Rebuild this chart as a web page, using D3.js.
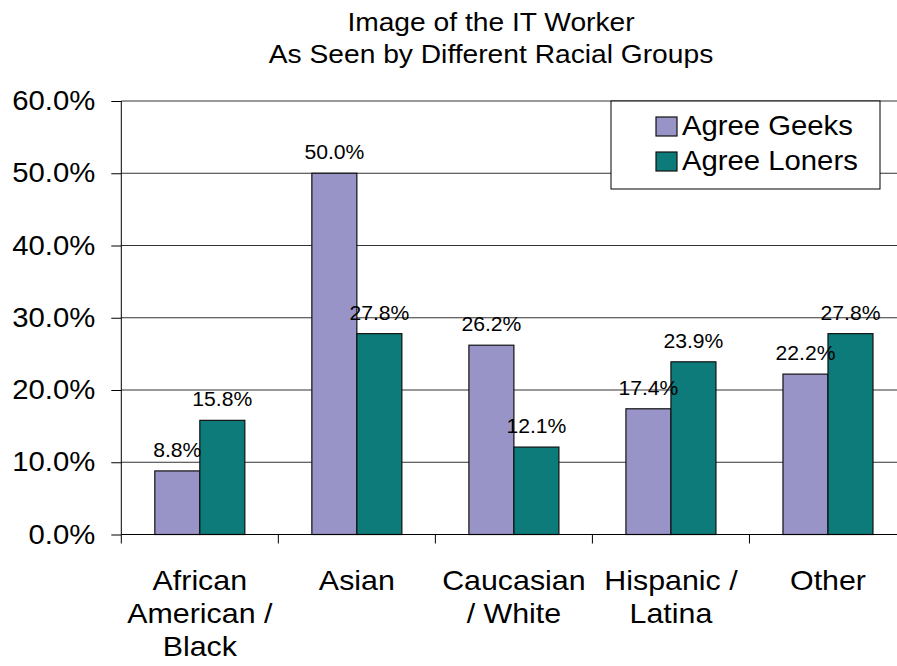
<!DOCTYPE html>
<html>
<head>
<meta charset="utf-8">
<script src="https://cdn.jsdelivr.net/npm/d3@7"></script>
<style>
  html, body { margin: 0; padding: 0; background: #fff; }
  svg { display: block; font-family: "Liberation Sans", Arial, Helvetica, sans-serif; }
</style>
</head>
<body>
<svg id="chart" width="897" height="666"></svg>
<script>
// ---- data ----
const titleLines = ["Image of the IT Worker", "As Seen by Different Racial Groups"];
const categories = ["African American / Black", "Asian", "Caucasian / White", "Hispanic / Latina", "Other"];
const tickLabelLines = [["African", "American /", "Black"], ["Asian"], ["Caucasian", "/ White"], ["Hispanic /", "Latina"], ["Other"]];
const seriesNames = ["Agree Geeks", "Agree Loners"];
const agreeGeeks = [0.088, 0.500, 0.262, 0.174, 0.222];
const agreeLoners = [0.158, 0.278, 0.121, 0.239, 0.278];
const yTicks = [0, 0.1, 0.2, 0.3, 0.4, 0.5, 0.6];

(function () {
const seriesValues = [agreeGeeks, agreeLoners];
const colors = ["#9994c8", "#0c7b79"];

// ---- layout ----
const W = 897;
const pL = 121.3, pR = 906.5, pT = 101, pB = 534.5;
const SX = 1.085; // horizontal glyph stretch seen in the original
const svg = d3.select("#chart");
const fmt = d3.format(".1%");
const place = (px, py) => `translate(${px},${py}) scale(${SX},1)`;

const x = d3.scaleBand().domain(categories).range([pL, pR])
  .paddingInner(0.4268).paddingOuter(0.2134);
const xs = d3.scaleBand().domain(seriesNames).range([0, x.bandwidth()]);
const y = d3.scaleLinear().domain([0, 0.6]).range([pB, pT]);

// gridlines
svg.append("g").selectAll("line").data(yTicks.filter(d => d > 0)).join("line")
  .attr("x1", pL).attr("x2", W)
  .attr("y1", d => y(d)).attr("y2", d => y(d))
  .attr("stroke", "#333").attr("stroke-width", 1);

// bars
const groups = svg.append("g").selectAll("g").data(categories).join("g")
  .attr("transform", d => `translate(${x(d)},0)`);
const cells = (c, i) => seriesNames.map((s, k) => ({ s, v: seriesValues[k][i], k }));
groups.selectAll("rect").data(cells).join("rect")
  .attr("x", d => xs(d.s)).attr("width", xs.bandwidth())
  .attr("y", d => y(d.v)).attr("height", d => y(0) - y(d.v))
  .attr("fill", d => colors[d.k]).attr("stroke", "#111").attr("stroke-width", 1.2);

// data labels
groups.selectAll("text.val").data(cells).join("text").attr("class", "val")
  .attr("transform", d => place(xs(d.s) + xs.bandwidth() / 2, y(d.v) - 14))
  .attr("text-anchor", "middle").attr("font-size", 19.5).attr("fill", "#000")
  .text(d => fmt(d.v));

// y axis
const yAxis = svg.append("g").attr("transform", `translate(${pL},0)`)
  .call(d3.axisLeft(y).tickValues(yTicks).tickSize(10).tickPadding(15).tickFormat(fmt));
yAxis.select(".domain").attr("stroke", "#000").attr("d", `M0,${pB}V${pT}`);
yAxis.selectAll(".tick line").attr("stroke", "#000");
yAxis.selectAll(".tick text")
  .attr("x", 0).attr("transform", place(-26, 0))
  .attr("font-size", 27).attr("font-family", "Liberation Sans, Arial, sans-serif").attr("fill", "#000");

// x axis baseline + category boundary ticks
svg.append("line").attr("x1", pL).attr("x2", W).attr("y1", pB).attr("y2", pB)
  .attr("stroke", "#000").attr("stroke-width", 1);
const bounds = d3.range(categories.length + 1).map(i => pL + i * x.step());
svg.append("g").selectAll("line").data(bounds).join("line")
  .attr("x1", d => d).attr("x2", d => d).attr("y1", pB).attr("y2", pB + 9)
  .attr("stroke", "#000");

// category labels
const catG = svg.append("g").selectAll("text").data(categories).join("text")
  .attr("text-anchor", "middle").attr("font-size", 28).attr("fill", "#000")
  .attr("transform", d => place(x(d) + x.bandwidth() / 2, 590));
catG.selectAll("tspan").data((d, i) => tickLabelLines[i]).join("tspan")
  .attr("x", 0).attr("y", (d, j) => j * 33).text(d => d);

// title
svg.append("text").attr("text-anchor", "middle").attr("font-size", 26).attr("fill", "#000")
  .attr("transform", place(491, 0))
  .selectAll("tspan").data(titleLines).join("tspan")
  .attr("x", 0).attr("y", (d, i) => 31.5 + i * 31.7).text(d => d);

// legend
const lg = svg.append("g");
lg.append("rect").attr("x", 611).attr("y", pT).attr("width", 269).attr("height", 88)
  .attr("fill", "#fff").attr("stroke", "#000").attr("stroke-width", 1);
const li = lg.selectAll("g").data(seriesNames).join("g")
  .attr("transform", (d, i) => `translate(0,${i * 35})`);
li.append("rect").attr("x", 656).attr("y", 117).attr("width", 21).attr("height", 19)
  .attr("fill", (d, i) => colors[i]).attr("stroke", "#111").attr("stroke-width", 1.2);
li.append("text").attr("transform", place(682, 135))
  .attr("font-size", 27).attr("fill", "#000").text(d => d);
})();
</script>
</body>
</html>
